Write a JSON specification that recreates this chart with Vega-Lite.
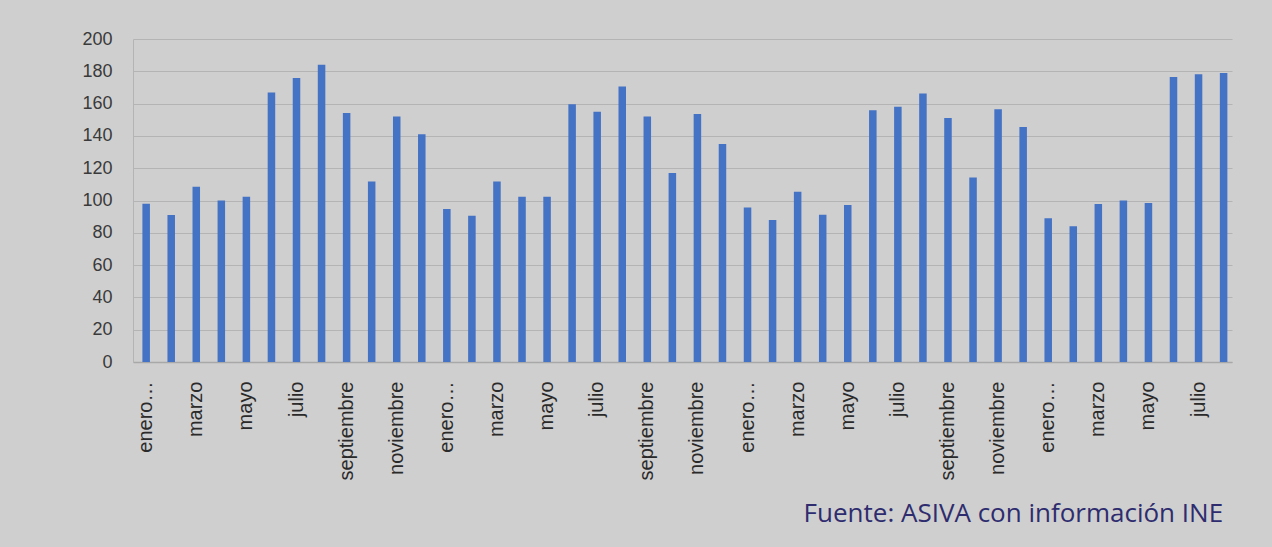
{
  "$schema": "https://vega.github.io/schema/vega-lite/v6.json",
  "autosize": {"type": "none"},
  "width": 1099,
  "height": 323,
  "padding": {"left": 133, "top": 39, "right": 40, "bottom": 185},
  "background": "#cfcfcf",
  "config": {
    "view": {"stroke": null},
    "font": "Liberation Sans"
  },
  "title": {
    "text": "Fuente: ASIVA con información INE",
    "orient": "bottom",
    "anchor": "end",
    "font": "Open Sans",
    "fontSize": 26,
    "fontWeight": "normal",
    "color": "#2e2c6e",
    "offset": 21,
    "dx": -10
  },
  "data": {
    "values": [
      {"periodo": "1-enero", "valor": 98},
      {"periodo": "1-febrero", "valor": 91},
      {"periodo": "1-marzo", "valor": 108.5},
      {"periodo": "1-abril", "valor": 100},
      {"periodo": "1-mayo", "valor": 102.3},
      {"periodo": "1-junio", "valor": 166.8},
      {"periodo": "1-julio", "valor": 175.9},
      {"periodo": "1-agosto", "valor": 184.1},
      {"periodo": "1-septiembre", "valor": 154.2},
      {"periodo": "1-octubre", "valor": 111.7},
      {"periodo": "1-noviembre", "valor": 152},
      {"periodo": "1-diciembre", "valor": 141},
      {"periodo": "2-enero", "valor": 94.7},
      {"periodo": "2-febrero", "valor": 90.5},
      {"periodo": "2-marzo", "valor": 111.7},
      {"periodo": "2-abril", "valor": 102.3},
      {"periodo": "2-mayo", "valor": 102.3},
      {"periodo": "2-junio", "valor": 159.6},
      {"periodo": "2-julio", "valor": 155},
      {"periodo": "2-agosto", "valor": 170.6},
      {"periodo": "2-septiembre", "valor": 152},
      {"periodo": "2-octubre", "valor": 117.1},
      {"periodo": "2-noviembre", "valor": 153.6},
      {"periodo": "2-diciembre", "valor": 135},
      {"periodo": "3-enero", "valor": 95.7},
      {"periodo": "3-febrero", "valor": 87.9},
      {"periodo": "3-marzo", "valor": 105.4},
      {"periodo": "3-abril", "valor": 91.1},
      {"periodo": "3-mayo", "valor": 97.2},
      {"periodo": "3-junio", "valor": 155.9},
      {"periodo": "3-julio", "valor": 158},
      {"periodo": "3-agosto", "valor": 166.2},
      {"periodo": "3-septiembre", "valor": 151.1},
      {"periodo": "3-octubre", "valor": 114.2},
      {"periodo": "3-noviembre", "valor": 156.5},
      {"periodo": "3-diciembre", "valor": 145.5},
      {"periodo": "4-enero", "valor": 89},
      {"periodo": "4-febrero", "valor": 84.1},
      {"periodo": "4-marzo", "valor": 97.8},
      {"periodo": "4-abril", "valor": 100},
      {"periodo": "4-mayo", "valor": 98.4},
      {"periodo": "4-junio", "valor": 176.5},
      {"periodo": "4-julio", "valor": 178.1},
      {"periodo": "4-agosto", "valor": 179}
    ]
  },
  "mark": {"type": "bar", "color": "#4472c4"},
  "encoding": {
    "x": {
      "field": "periodo",
      "type": "nominal",
      "sort": null,
      "scale": {"paddingInner": 0.7, "paddingOuter": 0.28, "align": 0.67},
      "axis": {
        "title": null,
        "labelAngle": -90,
        "labelFontSize": 20,
        "labelColor": "#2a2a2a",
        "labelPadding": 19,
        "labelLimit": 200,
        "ticks": false,
        "domainColor": "#a8a8a8",
        "domainWidth": 1.5,
        "labelExpr": "indexof(['enero','marzo','mayo','julio','septiembre','noviembre'], split(datum.value,'-')[1]) < 0 ? '' : (split(datum.value,'-')[1] == 'enero' ? 'enero…' : split(datum.value,'-')[1])"
      }
    },
    "y": {
      "field": "valor",
      "type": "quantitative",
      "scale": {"domain": [0, 200], "nice": false},
      "axis": {
        "title": null,
        "values": [0, 20, 40, 60, 80, 100, 120, 140, 160, 180, 200],
        "labelFontSize": 18,
        "labelColor": "#3a3a3a",
        "labelPadding": 21,
        "ticks": false,
        "domain": true,
        "domainColor": "#b4b4b4",
        "gridColor": "#b4b4b4",
        "gridWidth": 1.2
      }
    }
  }
}
